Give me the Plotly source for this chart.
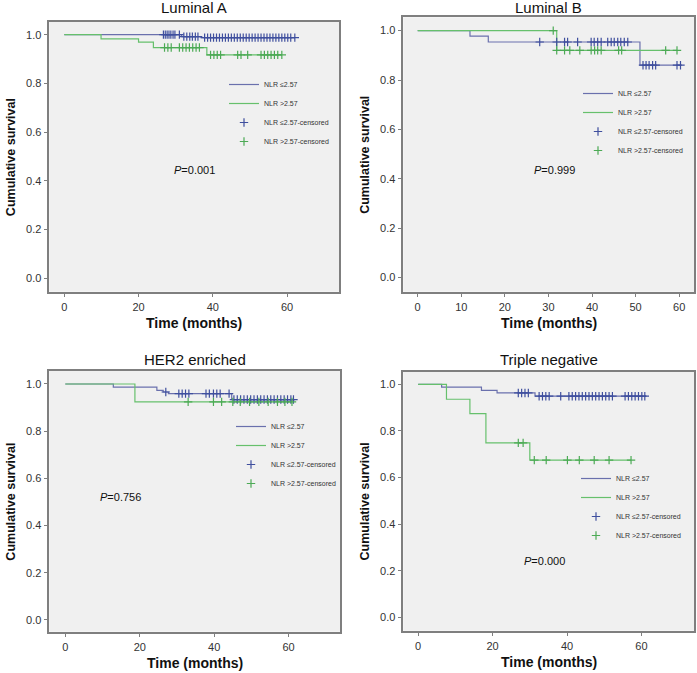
import numpy as np
import plotly.graph_objects as go

# ---------------- data ----------------
panel_titles = ["Luminal A", "Luminal B", "HER2 enriched", "Triple negative"]
p_values = ["0.001", "0.999", "0.756", "0.000"]
series_names = ["NLR \u22642.57", "NLR >2.57", "NLR \u22642.57-censored", "NLR >2.57-censored"]
y_ticks = [0.0, 0.2, 0.4, 0.6, 0.8, 1.0]
x_ticks_a = [0, 20, 40, 60]
x_ticks_b = [0, 10, 20, 30, 40, 50, 60]

# Luminal A
A_low_t = [0, 31.6, 37.0, 62.1]
A_low_s = [1.0, 0.992, 0.988, 0.988]
A_low_cens = [26.7, 27.2, 27.7, 28.2, 28.7, 29.3, 29.8, 31.0, 32.2, 33.0, 33.8, 34.5, 35.3, 36.0,
              37.8, 38.6, 39.4, 40.2, 41.0, 41.8, 42.6, 43.4, 44.2, 45.0, 45.8, 46.6, 47.4, 48.2,
              49.0, 49.8, 50.6, 51.4, 52.2, 53.0, 53.8, 54.6, 55.4, 56.2, 57.0, 57.8, 58.6, 59.4,
              60.2, 61.0, 62.1]
A_high_t = [0, 9.9, 20.0, 24.0, 38.4, 58.6]
A_high_s = [1.0, 0.983, 0.969, 0.947, 0.917, 0.917]
A_high_cens = [27.0, 27.9, 28.8, 31.0, 31.9, 32.8, 33.7, 34.6, 35.5, 36.4, 39.4, 40.3, 41.2, 42.1,
               46.7, 47.6, 49.4, 53.0, 53.9, 54.8, 55.7, 56.6, 57.5, 58.6]

# Luminal B
B_low_t = [0, 12.0, 16.2, 51.0, 60.6]
B_low_s = [1.0, 0.978, 0.954, 0.86, 0.86]
B_low_cens = [28.0, 31.9, 33.7, 34.4, 36.7, 39.8, 40.5, 41.3, 42.1, 43.6, 44.4, 45.1, 45.9, 46.6,
              47.4, 48.2, 51.7, 52.4, 53.1, 53.9, 54.6, 59.5, 60.3]
B_high_t = [0, 31.9, 59.5]
B_high_s = [1.0, 0.92, 0.92]
B_high_cens = [31.1, 31.9, 33.7, 34.9, 37.2, 39.8, 40.6, 41.3, 42.1, 46.1, 46.8, 56.9, 59.5]

# HER2 enriched
C_low_t = [0, 12.9, 24.6, 26.3, 27.7, 44.7, 61.3]
C_low_s = [1.0, 0.987, 0.973, 0.966, 0.959, 0.934, 0.934]
C_low_cens = [27.0, 30.5, 31.4, 32.3, 33.2, 37.8, 38.7, 39.8, 40.7, 41.6, 44.0, 45.3, 46.2, 47.1,
              48.0, 48.9, 49.8, 50.7, 51.6, 52.5, 53.4, 54.3, 55.2, 56.1, 57.0, 57.9, 58.8, 59.7,
              60.6, 61.3]
C_high_t = [0, 18.7, 60.9]
C_high_s = [1.0, 0.924, 0.924]
C_high_cens = [33.0, 39.8, 42.0, 45.0, 47.0, 49.5, 52.0, 54.5, 57.0, 59.0, 60.9]

# Triple negative
D_low_t = [0, 6.3, 17.0, 21.2, 31.4, 61.4]
D_low_s = [1.0, 0.988, 0.974, 0.963, 0.949, 0.949]
D_low_cens = [26.9, 27.8, 28.7, 29.6, 32.5, 33.4, 34.3, 35.2, 38.3, 40.5, 41.4, 42.3, 43.2, 44.1,
              45.0, 45.9, 46.8, 47.7, 48.6, 49.5, 50.4, 51.3, 52.2, 55.6, 56.5, 57.4, 58.3, 59.2,
              60.1, 60.9]
D_high_t = [0, 7.6, 13.9, 18.2, 30.0, 57.2]
D_high_s = [1.0, 0.936, 0.874, 0.749, 0.675, 0.675]
D_high_cens = [26.9, 28.2, 31.2, 34.4, 40.1, 43.3, 47.3, 51.3, 57.2]

# ---------------- styling / layout ----------------
BLUE_LINE = "#6a70ad"
BLUE_MARK = "#3f4f9e"
GREEN_LINE = "#66c06c"
GREEN_MARK = "#4caa55"
FONT = "Liberation Sans, Arial, sans-serif"
W, H = 697, 673


def fx(px):
    return px / W


def fy(py):
    return 1 - py / H


panels = [
    dict(low=(A_low_t, A_low_s, A_low_cens), high=(A_high_t, A_high_s, A_high_cens),
         xdom=(49.3, 339.0), ydom=(22.0, 291.7), xr=[-4.04, 74.0], yr=[-0.056, 1.052],
         xt=x_ticks_a, p_xy=(35.2, 0.444), leg=(224, 70), title_y=8),
    dict(low=(B_low_t, B_low_s, B_low_cens), high=(B_high_t, B_high_s, B_high_cens),
         xdom=(403.3, 694.0), ydom=(17.3, 291.7), xr=[-3.3, 63.4], yr=[-0.057, 1.054],
         xt=x_ticks_b, p_xy=(31.5, 0.436), leg=(578, 79), title_y=7.5),
    dict(low=(C_low_t, C_low_s, C_low_cens), high=(C_high_t, C_high_s, C_high_cens),
         xdom=(49.3, 340.0), ydom=(371.0, 631.7), xr=[-4.3, 73.8], yr=[-0.05, 1.055],
         xt=x_ticks_a, p_xy=(14.7, 0.52), leg=(231, 412), title_y=359),
    dict(low=(D_low_t, D_low_s, D_low_cens), high=(D_high_t, D_high_s, D_high_cens),
         xdom=(403.3, 694.3), ydom=(371.7, 630.7), xr=[-4.0, 74.2], yr=[-0.056, 1.054],
         xt=x_ticks_a, p_xy=(34.0, 0.243), leg=(576, 464), title_y=359),
]


def surv_at(times, surv, t):
    times = np.asarray(times)
    surv = np.asarray(surv)
    idx = np.searchsorted(times, t, side="right") - 1
    return surv[np.clip(idx, 0, len(surv) - 1)]


fig = go.Figure()
annotations = []
layout_axes = {}

for i, p in enumerate(panels):
    n = i + 1
    xa = "x" if n == 1 else f"x{n}"
    ya = "y" if n == 1 else f"y{n}"
    leg = "legend" if n == 1 else f"legend{n}"

    lt, ls, lc = p["low"]
    ht, hs, hc = p["high"]

    fig.add_trace(go.Scatter(x=lt, y=ls, mode="lines", line=dict(color=BLUE_LINE, width=1.2, shape="hv"),
                             name=series_names[0], xaxis=xa, yaxis=ya, legend=leg))
    fig.add_trace(go.Scatter(x=ht, y=hs, mode="lines", line=dict(color=GREEN_LINE, width=1.2, shape="hv"),
                             name=series_names[1], xaxis=xa, yaxis=ya, legend=leg))
    fig.add_trace(go.Scatter(x=lc, y=surv_at(lt, ls, lc), mode="markers",
                             marker=dict(symbol="cross-thin-open", size=6, color=BLUE_MARK,
                                         line=dict(color=BLUE_MARK, width=1.2)),
                             name=series_names[2], xaxis=xa, yaxis=ya, legend=leg))
    fig.add_trace(go.Scatter(x=hc, y=surv_at(ht, hs, hc), mode="markers",
                             marker=dict(symbol="cross-thin-open", size=6, color=GREEN_MARK,
                                         line=dict(color=GREEN_MARK, width=1.2)),
                             name=series_names[3], xaxis=xa, yaxis=ya, legend=leg))

    x0, x1 = p["xdom"]
    y0, y1 = p["ydom"]
    axis_common = dict(showline=True, mirror=True, linecolor="#7f7f7f", linewidth=1.5,
                       showgrid=False, zeroline=False, ticks="outside", ticklen=4,
                       tickcolor="#7f7f7f", tickwidth=1.2,
                       tickfont=dict(family=FONT, size=11, color="#333333"))
    layout_axes["xaxis" if n == 1 else f"xaxis{n}"] = dict(
        domain=[fx(x0), fx(x1)], range=p["xr"], anchor=ya, tickvals=p["xt"], **axis_common)
    layout_axes["yaxis" if n == 1 else f"yaxis{n}"] = dict(
        domain=[fy(y1), fy(y0)], range=p["yr"], anchor=xa, tickvals=y_ticks,
        tickformat=".1f", **axis_common)

    lx, ly = p["leg"]
    layout_axes[leg] = dict(x=fx(lx), y=fy(ly), xanchor="left", yanchor="top",
                            bgcolor="rgba(0,0,0,0)", font=dict(family=FONT, size=7, color="#333333"),
                            itemwidth=30, tracegroupgap=0)

    xc = fx((x0 + x1) / 2)
    # panel title
    annotations.append(dict(text=panel_titles[i], x=xc, y=fy(p["title_y"]), xref="paper", yref="paper",
                            showarrow=False, xanchor="center", yanchor="middle",
                            font=dict(family=FONT, size=15, color="#111111")))
    # x title
    annotations.append(dict(text="<b>Time (months)</b>", x=xc, y=fy(y1 + 31), xref="paper",
                            yref="paper", showarrow=False, xanchor="center", yanchor="middle",
                            font=dict(family=FONT, size=14, color="#111111")))
    # y title
    annotations.append(dict(text="<b>Cumulative survival</b>", x=fx(x0 - 38), y=fy((y0 + y1) / 2),
                            xref="paper", yref="paper", showarrow=False, textangle=-90,
                            xanchor="center", yanchor="middle",
                            font=dict(family=FONT, size=12.5, color="#111111")))
    # P value
    annotations.append(dict(text=f"<i>P</i>={p_values[i]}", x=p["p_xy"][0], y=p["p_xy"][1],
                            xref=xa, yref=ya, showarrow=False, xanchor="center", yanchor="middle",
                            font=dict(family=FONT, size=11, color="#111111")))

fig.update_layout(
    width=W, height=H,
    margin=dict(l=0, r=0, t=0, b=0),
    paper_bgcolor="white",
    plot_bgcolor="#f0f0f0",
    showlegend=True,
    annotations=annotations,
    **layout_axes,
)

fig.write_html("out.html", config={"displayModeBar": False},
               post_script="document.body.style.margin='0px';document.body.style.padding='0px';")
